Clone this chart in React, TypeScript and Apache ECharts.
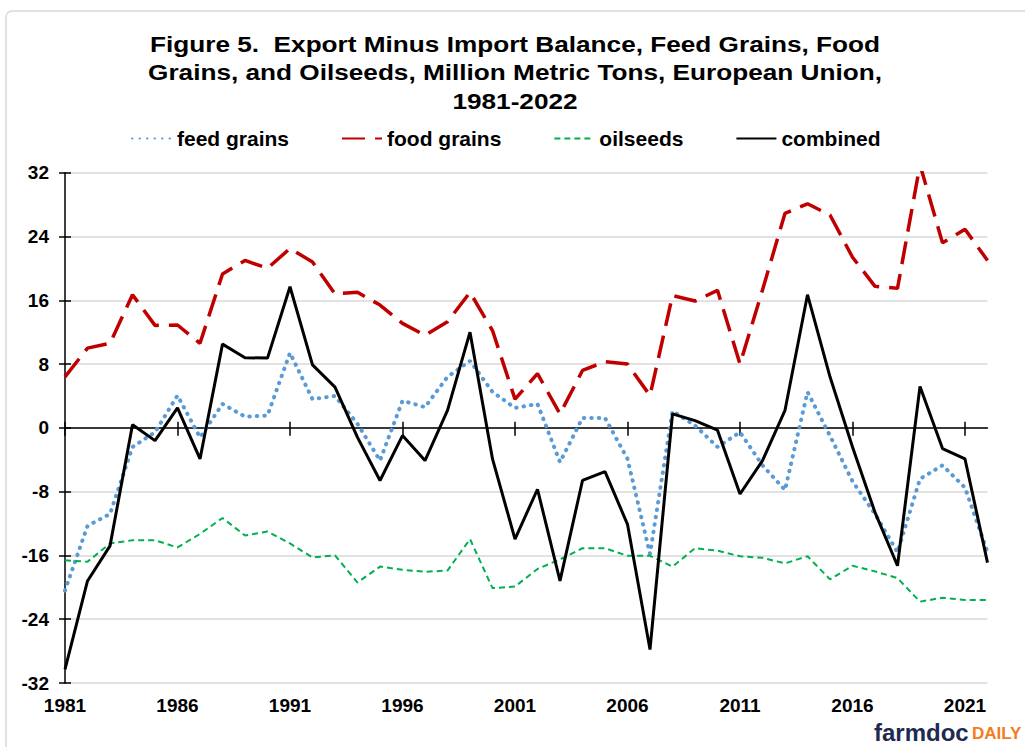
import React, { useEffect, useRef } from "react";
import * as echarts from "echarts";

const years: string[] = [];
for (let y = 1981; y <= 2022; y++) years.push(String(y));

const feedGrains = [-20.4, -12.3, -10.8, -2.4, -0.55, 4.05, -1.2, 3.0, 1.4, 1.55,
  9.4, 3.6, 4.0, 0.5, -4.1, 3.4, 2.6, 6.4, 8.4, 4.5,
  2.5, 3.0, -4.3, 1.25, 1.25, -3.9, -15.8, 2.1, 0.3, -2.4,
  -0.55, -4.7, -7.8, 4.5, -1.0, -6.7, -10.8, -15.6, -6.4, -4.7,
  -7.5, -15.6];
const foodGrains = [6.4, 10.0, 10.6, 16.7, 12.85, 12.9, 10.6, 19.3, 21.0, 20.0,
  22.5, 20.8, 16.8, 17.0, 15.4, 13.1, 11.6, 13.3, 17.0, 12.2,
  3.6, 6.8, 1.75, 7.2, 8.3, 8.0, 4.05, 16.6, 15.9, 17.25,
  8.0, 17.3, 26.9, 28.1, 26.7, 21.4, 17.75, 17.5, 33.0, 23.2,
  24.9, 21.0];
const oilseeds = [-16.6, -16.8, -14.5, -14.1, -14.1, -15.0, -13.3, -11.3, -13.5, -13.0,
  -14.5, -16.25, -16.0, -19.4, -17.4, -17.8, -18.05, -17.9, -13.95, -20.1,
  -19.9, -17.7, -16.5, -15.1, -15.1, -16.05, -16.05, -17.4, -15.1, -15.4,
  -16.1, -16.3, -17.0, -16.1, -19.0, -17.3, -18.0, -18.85, -21.8, -21.3,
  -21.6, -21.6];
const combined = [-30.3, -19.2, -14.8, 0.4, -1.6, 2.5, -3.9, 10.5, 8.8, 8.75,
  17.7, 7.9, 5.1, -1.2, -6.6, -0.97, -4.1, 2.2, 12.0, -3.9,
  -13.95, -7.7, -19.2, -6.6, -5.5, -12.1, -27.8, 1.75, 0.9, -0.3,
  -8.3, -4.1, 2.2, 16.7, 6.4, -2.4, -10.6, -17.3, 5.2, -2.6,
  -3.9, -16.9];

const titleLines = [
  "Figure 5.\u00a0\u00a0Export Minus Import Balance, Feed Grains, Food",
  "Grains, and Oilseeds, Million Metric Tons, European Union,",
  "1981-2022",
];

const FONT = "'Liberation Sans', Arial, sans-serif";

export default function App() {
  const ref = useRef<HTMLDivElement>(null);
  useEffect(() => {
    if (!ref.current) return;
    const chart = echarts.init(ref.current, null, { renderer: "svg" });
    const tickInterval = (i: number) => i % 5 === 0;
    const titleY = [44, 72.5, 101];
    chart.setOption({
      animation: false,
      backgroundColor: "#ffffff",
      textStyle: { fontFamily: FONT },
      legend: {
        data: ["feed grains", "food grains", "oilseeds", "combined"],
        left: 126,
        top: 123,
        itemWidth: 40,
        itemHeight: 14,
        itemGap: 52,
        itemStyle: { opacity: 0, borderWidth: 0 },
        textStyle: { fontFamily: FONT, fontSize: 21, fontWeight: "bold", color: "#000" },
      },
      grid: { left: 65, right: 37.5, top: 172.7, bottom: 64, containLabel: false },
      xAxis: [
        {
          type: "category", data: years, boundaryGap: false,
          axisLine: { show: true, onZero: true, onZeroAxisIndex: 0, lineStyle: { color: "#000", width: 1.5 } },
          axisTick: { show: true, interval: tickInterval, length: 8, lineStyle: { color: "#000", width: 1.5 } },
          axisLabel: { show: false }, splitLine: { show: false },
        },
        {
          type: "category", data: years, boundaryGap: false, position: "bottom",
          axisLine: { show: false, onZero: true, onZeroAxisIndex: 0 },
          axisTick: { show: true, inside: true, interval: tickInterval, length: 6, lineStyle: { color: "#000", width: 1.5 } },
          axisLabel: { show: false }, splitLine: { show: false },
        },
        {
          type: "category", data: years, boundaryGap: false, position: "bottom",
          axisLine: { show: false, onZero: false },
          axisTick: { show: false },
          axisLabel: { show: true, interval: 4, margin: 13, fontFamily: FONT, fontSize: 19, fontWeight: "bold", color: "#000" },
          splitLine: { show: false },
        },
      ],
      yAxis: [
        {
          type: "value", min: -32, max: 32, interval: 8, position: "left",
          axisLine: { show: true, lineStyle: { color: "#000", width: 1.5 } },
          axisTick: { show: true, length: 6, lineStyle: { color: "#000", width: 1.5 } },
          axisLabel: { margin: 16, fontFamily: FONT, fontSize: 19, fontWeight: "bold", color: "#000" },
          splitLine: { show: true, lineStyle: { color: "#d9d9d9", width: 1.5 } },
        },
        {
          type: "value", min: -32, max: 32, interval: 8, position: "left",
          axisLine: { show: false },
          axisTick: { show: true, inside: true, length: 6, lineStyle: { color: "#000", width: 1.5 } },
          axisLabel: { show: false },
          splitLine: { show: false },
        },
      ],
      series: [
        {
          name: "feed grains", type: "line", data: feedGrains, symbol: "none",
          lineStyle: { color: "#5b9bd5", width: 4, type: [0.5, 7], cap: "round" },
          itemStyle: { color: "#5b9bd5" },
        },
        {
          name: "food grains", type: "line", data: foodGrains, symbol: "none",
          lineStyle: { color: "#c00000", width: 3.5, type: [23, 10] },
          itemStyle: { color: "#c00000" },
        },
        {
          name: "oilseeds", type: "line", data: oilseeds, symbol: "none",
          lineStyle: { color: "#00b050", width: 2, type: [6, 4] },
          itemStyle: { color: "#00b050" },
        },
        {
          name: "combined", type: "line", data: combined, symbol: "none",
          lineStyle: { color: "#000000", width: 3 },
          itemStyle: { color: "#000000" },
        },
      ],
      graphic: [
        {
          type: "rect", silent: true, z: -10,
          shape: { x: 6, y: 11, width: 1060, height: 800, r: 6 },
          style: { fill: "none", stroke: "#d9d9d9", lineWidth: 1.5 },
        },
        ...titleLines.map((t, i) => ({
          type: "text", x: 515, y: titleY[i], scaleX: 1.19,
          style: { text: t, fill: "#000", font: `bold 22px ${FONT}`, textAlign: "center", textVerticalAlign: "middle" },
        })),
        {
          type: "text", x: 874, y: 744,
          style: { text: "farmdoc", fill: "#1d2b4f", font: `900 24px ${FONT}`, textVerticalAlign: "bottom" },
        },
        {
          type: "text", x: 972, y: 742,
          style: { text: "DAILY", fill: "#f47b20", font: `bold 17px ${FONT}`, textVerticalAlign: "bottom" },
        },
      ],
    });
    return () => chart.dispose();
  }, []);
  return <div ref={ref} style={{ position: "fixed", left: 0, top: 0, width: 1025, height: 747 }} />;
}
